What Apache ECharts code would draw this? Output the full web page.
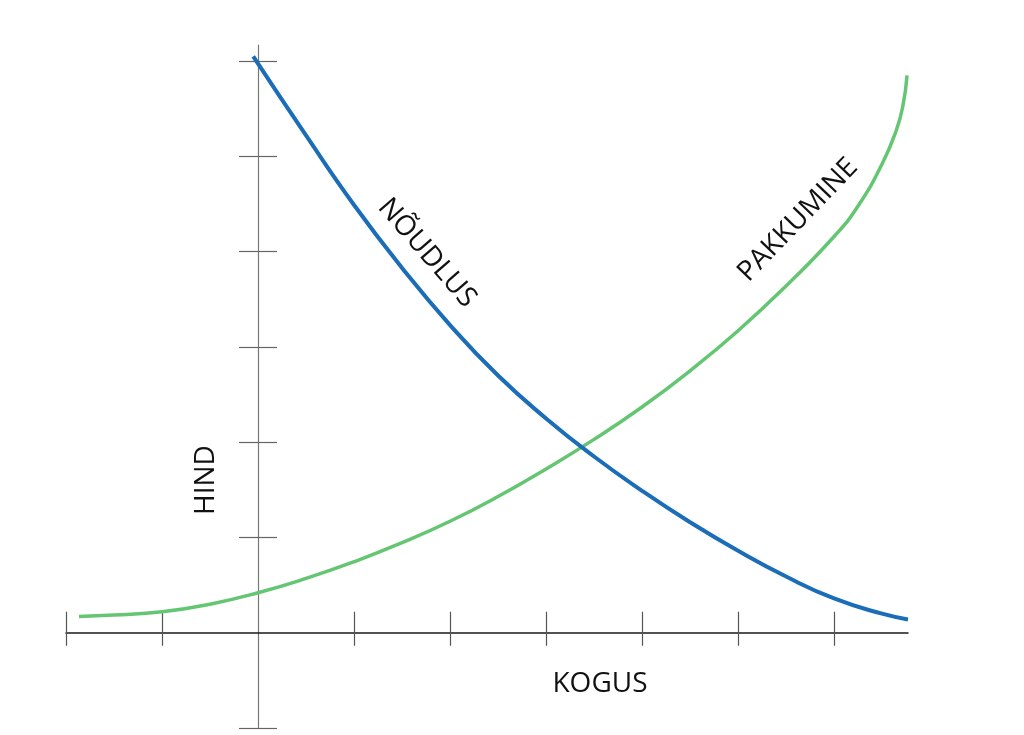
<!DOCTYPE html>
<html>
<head>
<meta charset="utf-8">
<script src="https://cdn.jsdelivr.net/npm/echarts@6/dist/echarts.min.js"></script>
<style>html,body{margin:0;padding:0;background:#fff;}#c{width:1024px;height:735px;}</style>
</head>
<body>
<div id="c"></div>
<script>
// Demand curve (NÕUDLUS)
const demandX = [-0.05, 0.5, 1, 1.5, 2, 2.5, 3, 3.5, 4, 4.5, 5, 5.5, 6, 6.5, 6.77];
const demandY = [6.05, 5.22, 4.49, 3.83, 3.23, 2.70, 2.25, 1.85, 1.49, 1.16, 0.86, 0.59, 0.36, 0.20, 0.14];
// Supply curve (PAKKUMINE)
const supplyX = [-1.865, -1.5, -1, -0.5, 0, 0.5, 1, 1.5, 2, 2.5, 3, 3.5, 4, 4.5, 5, 5.5, 6, 6.25, 6.5, 6.65, 6.72, 6.76];
const supplyY = [0.17, 0.185, 0.22, 0.30, 0.42, 0.57, 0.745, 0.945, 1.17, 1.43, 1.72, 2.03, 2.37, 2.75, 3.17, 3.64, 4.16, 4.48, 4.92, 5.28, 5.55, 5.85];
// Tick positions
const xTicks = [-2, -1, 1, 2, 3, 4, 5, 6];
const yTicks = [-1, 1, 2, 3, 4, 5, 6];
// Texts
const demandLabel = 'NÕUDLUS';
const supplyLabel = 'PAKKUMINE';
const yName = 'HIND';
const xName = 'KOGUS';

const chart = echarts.init(document.getElementById('c'), null, {renderer: 'canvas'});
const FONT = '"Open Sans", "Noto Sans", sans-serif';

function xAxisDef(inside, len, showLine) {
  return {
    type: 'value', min: -2, max: 6.77, interval: 1, position: 'bottom',
    axisLine: {show: showLine, onZero: true, lineStyle: {color: '#1a1a1a', width: 1.5}},
    axisTick: {show: true, inside: inside, length: len, customValues: xTicks, lineStyle: {color: '#555', width: 1.2}},
    axisLabel: {show: false}, splitLine: {show: false}
  };
}
function yAxisDef(inside, len, showLine) {
  return {
    type: 'value', min: -1, max: 6.17, interval: 1, position: 'left',
    axisLine: {show: showLine, onZero: true, lineStyle: {color: '#777', width: 1.2}},
    axisTick: {show: true, inside: inside, length: len, customValues: yTicks, lineStyle: {color: '#666', width: 1.2}},
    axisLabel: {show: false}, splitLine: {show: false}
  };
}

const option = {
  backgroundColor: '#ffffff',
  animation: false,
  grid: {left: 66, right: 116, top: 45, bottom: 7, containLabel: false},
  xAxis: [xAxisDef(true, 21, true), xAxisDef(false, 13, false)],
  yAxis: [yAxisDef(false, 19, true), yAxisDef(true, 19, false)],
  series: [
    {
      name: supplyLabel, type: 'line', xAxisIndex: 0, yAxisIndex: 0,
      data: supplyX.map((x, i) => [x, supplyY[i]]),
      smooth: 0.5, showSymbol: false,
      lineStyle: {color: '#64c672', width: 3.5}, z: 3
    },
    {
      name: demandLabel, type: 'line', xAxisIndex: 0, yAxisIndex: 0,
      data: demandX.map((x, i) => [x, demandY[i]]),
      smooth: 0.5, showSymbol: false,
      lineStyle: {color: '#1a6db6', width: 4}, z: 4
    }
  ],
  graphic: [
    {type: 'text', x: 427, y: 253, rotation: -49 * Math.PI / 180,
      style: {text: demandLabel, font: '28px ' + FONT, fill: '#111', align: 'center', verticalAlign: 'middle'}},
    {type: 'text', x: 798, y: 220, rotation: 46 * Math.PI / 180,
      style: {text: supplyLabel, font: '28px ' + FONT, fill: '#111', align: 'center', verticalAlign: 'middle'}},
    {type: 'text', x: 206, y: 480, rotation: Math.PI / 2,
      style: {text: yName, font: '28px ' + FONT, fill: '#111', align: 'center', verticalAlign: 'middle'}},
    {type: 'text', x: 600, y: 684,
      style: {text: xName, font: '28px ' + FONT, fill: '#111', align: 'center', verticalAlign: 'middle'}}
  ]
};
chart.setOption(option);
</script>
</body>
</html>
